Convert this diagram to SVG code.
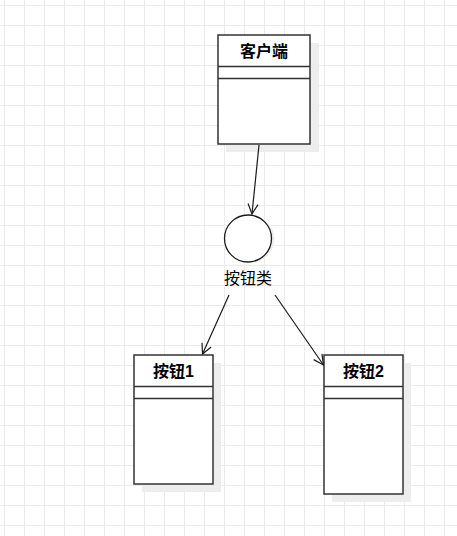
<svg xmlns="http://www.w3.org/2000/svg" width="457" height="536" viewBox="0 0 457 536">
<defs>
<pattern id="grid" x="4" y="5" width="20" height="20" patternUnits="userSpaceOnUse">
<path d="M0.5 0V20M0 0.5H20" fill="none" stroke="#ebebeb" stroke-width="1"/>
</pattern>
<marker id="arr" viewBox="0 0 12 12" refX="11" refY="6" markerWidth="12" markerHeight="12" markerUnits="userSpaceOnUse" orient="auto">
<path d="M1 1L11 6L1 11" fill="none" stroke="#1a1a1a" stroke-width="1.2"/>
</marker>
</defs>
<style>
.box{fill:#ffffff;stroke:#333333;stroke-width:1.5}
.sh{fill:#ededed}
.div{stroke:#333333;stroke-width:1.5}
.t{font-family:"Liberation Sans","Noto Sans CJK SC",sans-serif;font-size:16px;text-anchor:middle;fill:#000}
.b{font-weight:bold}
.c{fill:none;stroke:#1a1a1a;stroke-width:1.2}
</style>
<rect width="457" height="536" fill="#ffffff"/>
<rect width="457" height="536" fill="url(#grid)"/>
<g id="client">
<rect class="sh" x="226" y="43" width="93" height="109"/>
<rect class="box" x="218" y="35" width="92" height="109"/>
<line class="div" x1="218" y1="66.5" x2="310" y2="66.5"/>
<line class="div" x1="218" y1="78.5" x2="310" y2="78.5"/>
<text class="t b" x="264" y="57">客户端</text>
</g>
<g id="button-class">
<circle cx="251" cy="239" r="23.5" fill="#ededed"/>
<circle cx="248" cy="238.5" r="23.5" fill="#ffffff" stroke="#1a1a1a" stroke-width="1.3"/>
<text class="t" x="248" y="284">按钮类</text>
</g>
<g id="button1">
<rect class="sh" x="142" y="363" width="79" height="129"/>
<rect class="box" x="134" y="355" width="79" height="129"/>
<line class="div" x1="134" y1="386.5" x2="213" y2="386.5"/>
<line class="div" x1="134" y1="398.5" x2="213" y2="398.5"/>
<text class="t b" x="173.5" y="377">按钮1</text>
</g>
<g id="button2">
<rect class="sh" x="332" y="363" width="79" height="139"/>
<rect class="box" x="324" y="355" width="79" height="139"/>
<line class="div" x1="324" y1="386.5" x2="403" y2="386.5"/>
<line class="div" x1="324" y1="398.5" x2="403" y2="398.5"/>
<text class="t b" x="363.5" y="377">按钮2</text>
</g>
<g id="connectors">
<line class="c" x1="259" y1="145" x2="252" y2="214" marker-end="url(#arr)"/>
<line class="c" x1="229" y1="295" x2="202.5" y2="354" marker-end="url(#arr)"/>
<line class="c" x1="275" y1="295" x2="323.5" y2="365" marker-end="url(#arr)"/>
</g>
</svg>
